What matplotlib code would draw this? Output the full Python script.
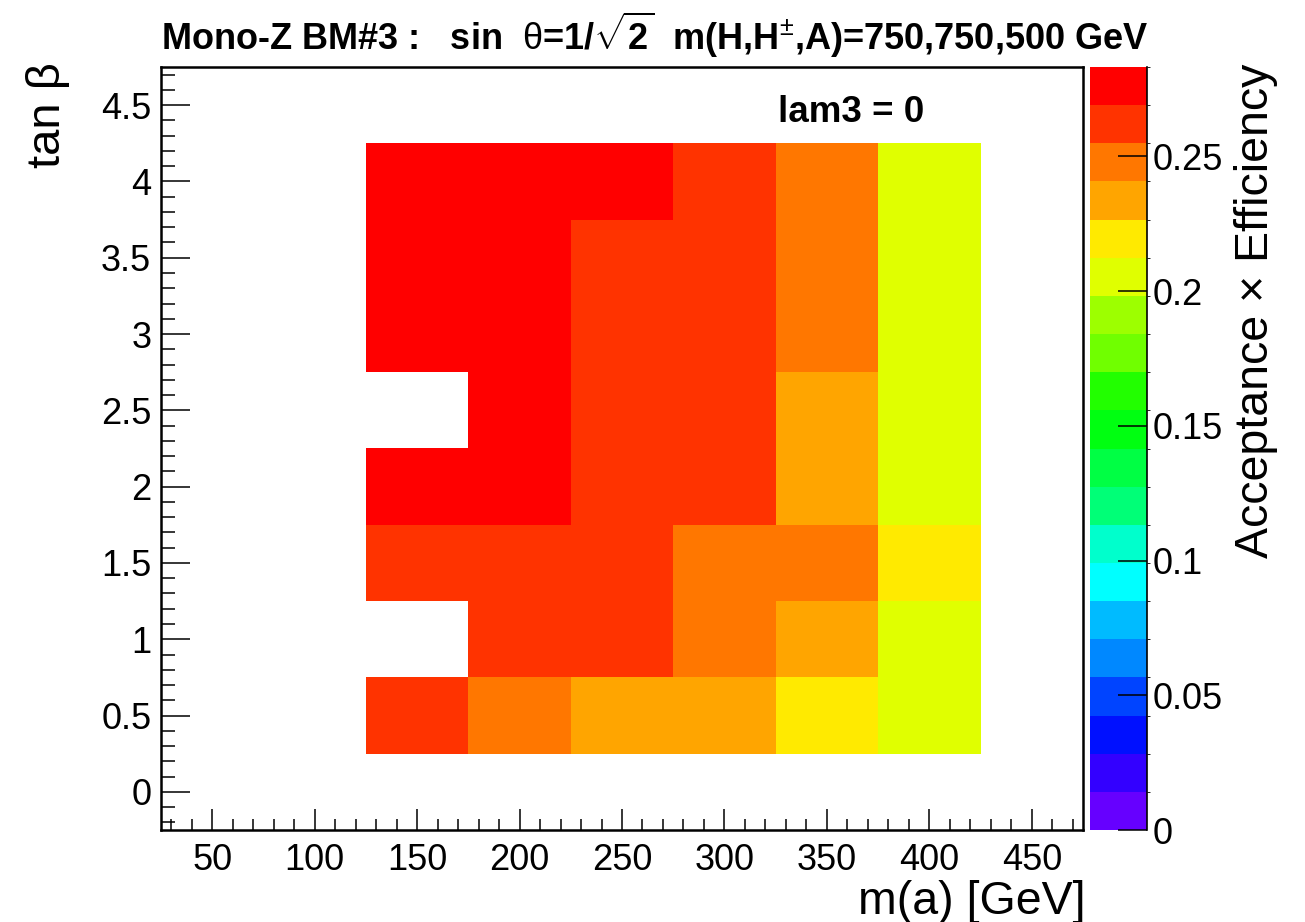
import numpy as np
import matplotlib
matplotlib.use("Agg")
import matplotlib.pyplot as plt
from matplotlib.colors import ListedColormap, BoundaryNorm
from matplotlib.ticker import MultipleLocator

# bin edges of the 2D histogram
m_a_edges = [125, 175, 225, 275, 325, 375, 425]
tanb_edges = [0.25, 0.75, 1.25, 1.75, 2.25, 2.75, 3.25, 3.75, 4.25]

# acceptance x efficiency, rows = tan(beta) 0.5 ... 4.0, cols = m(a) 150 ... 400
nan = np.nan
acc_eff = [
    [0.262, 0.248, 0.234, 0.234, 0.219, 0.205],
    [nan,   0.262, 0.262, 0.248, 0.234, 0.205],
    [0.262, 0.262, 0.262, 0.248, 0.248, 0.219],
    [0.276, 0.276, 0.262, 0.262, 0.234, 0.205],
    [nan,   0.276, 0.262, 0.262, 0.234, 0.205],
    [0.276, 0.276, 0.262, 0.262, 0.248, 0.205],
    [0.276, 0.276, 0.262, 0.262, 0.248, 0.205],
    [0.276, 0.276, 0.276, 0.262, 0.248, 0.205],
]

z_max = 0.2832
n_contours = 20
cbar_ticks = [0, 0.05, 0.1, 0.15, 0.2, 0.25]

# ROOT-like rainbow palette, 20 contour levels (low -> high)
palette = ["#6600FF", "#3300FF", "#0010FF", "#0044FF", "#0088FF",
           "#00BBFF", "#00FFFF", "#00FFCC", "#00FF77", "#00FF44",
           "#00FF11", "#22FF00", "#70FF00", "#9DFF00", "#E0FF00",
           "#FFEA00", "#FFA500", "#FF7700", "#FF3300", "#FF0000"]

W, H = 1305, 922
plt.rcParams["font.family"] = ["Liberation Sans", "DejaVu Sans"]
plt.rcParams["mathtext.fontset"] = "custom"
plt.rcParams["mathtext.rm"] = "Liberation Sans"
plt.rcParams["mathtext.it"] = "Liberation Sans"
plt.rcParams["mathtext.bf"] = "Liberation Sans:bold"


def fx(px):
    return px / W


def fy(py):
    return 1 - py / H


fig = plt.figure(figsize=(W / 100, H / 100), dpi=100)
ax = fig.add_axes([fx(161), fy(830), fx(1083) - fx(161), fy(67) - fy(830)])
cax = fig.add_axes([fx(1090), fy(830), fx(1147) - fx(1090), fy(67) - fy(830)])

cmap = ListedColormap(palette)
cmap.set_bad("white", 0)
norm = BoundaryNorm(np.linspace(0, z_max, n_contours + 1), cmap.N)

z = np.ma.masked_invalid(np.array(acc_eff))
mesh = ax.pcolormesh(m_a_edges, tanb_edges, z, cmap=cmap, norm=norm,
                     edgecolors="face", linewidth=0)

ax.set_xlim(25, 475)
ax.set_ylim(-0.25, 4.75)
ax.xaxis.set_major_locator(MultipleLocator(50))
ax.xaxis.set_minor_locator(MultipleLocator(10))
ax.yaxis.set_major_locator(MultipleLocator(0.5))
ax.yaxis.set_minor_locator(MultipleLocator(0.1))
ax.set_xticks(range(50, 451, 50))
ax.set_yticks([0, 0.5, 1, 1.5, 2, 2.5, 3, 3.5, 4, 4.5])
ax.set_yticklabels(["0", "0.5", "1", "1.5", "2", "2.5", "3", "3.5", "4", "4.5"])
ax.tick_params(axis="x", which="major", direction="in", length=15, width=1.1,
               labelsize=26, pad=9, top=False)
ax.tick_params(axis="x", which="minor", direction="in", length=8, width=1.1,
               top=False)
ax.tick_params(axis="y", which="major", direction="in", length=21, width=1.1,
               labelsize=26, pad=7, right=False)
ax.tick_params(axis="y", which="minor", direction="in", length=10, width=1.1,
               right=False)
for sp in ax.spines.values():
    sp.set_linewidth(1.8)

cbar = fig.colorbar(mesh, cax=cax, ticks=cbar_ticks, spacing="proportional")
cbar.outline.set_visible(False)
cax.set_yticklabels(["0", "0.05", "0.1", "0.15", "0.2", "0.25"])
cax.tick_params(axis="y", direction="in", length=21, width=1.1,
                labelsize=26, pad=4)
cax.plot([1, 1], [0, 1], transform=cax.transAxes, color="black", lw=1.2,
         clip_on=False)

fig.text(fx(655), fy(35),
         r"Mono-Z BM#3 :   sin  $\theta$=1/$\sqrt{\mathbf{2}}$  "
         r"m(H,H$^{\pm}$,A)=750,750,500 GeV",
         ha="center", va="center", fontsize=26, fontweight="bold",
         family=["Liberation Sans Narrow", "Liberation Sans", "DejaVu Sans"])
fig.text(fx(778), fy(113), "lam3 = 0", ha="left", va="center",
         fontsize=26.5, fontweight="bold")
fig.text(fx(1086), fy(914), "m(a) [GeV]", ha="right", va="baseline",
         fontsize=33.5)
fig.text(fx(48), fy(62), "tan β", ha="center", va="top", rotation=90,
         fontsize=34)
fig.text(fx(1256), fy(64), "Acceptance × Efficiency", ha="center", va="top",
         rotation=90, fontsize=33.5)

fig.savefig("out.png", dpi=100)
